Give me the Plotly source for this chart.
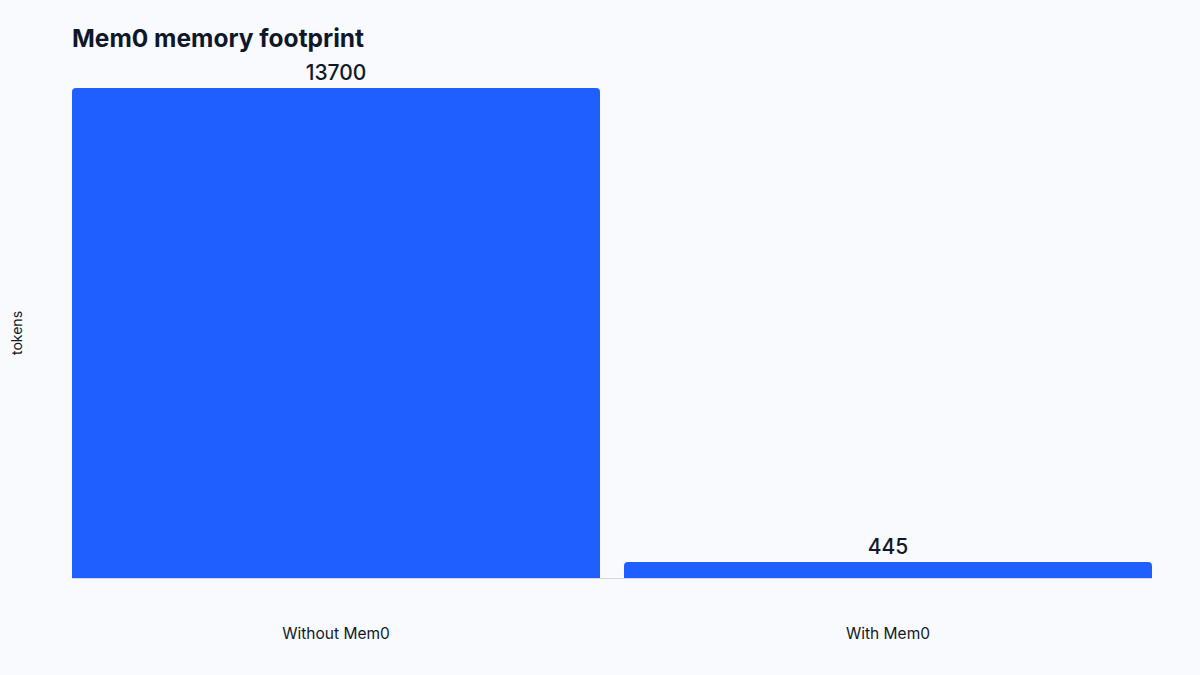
import plotly.graph_objects as go

categories = ["Without Mem0", "With Mem0"]
tokens = [13700, 445]
labels = ["13700", "445"]

fig = go.Figure(
    go.Bar(
        x=categories,
        y=tokens,
        text=labels,
        textposition="outside",
        textfont=dict(size=21, color="#111827", family="Inter", weight=500),
        marker=dict(color="#1f5eff", cornerradius=4, line=dict(width=0)),
        cliponaxis=False,
        hoverinfo="skip",
    )
)

gap = 0.0435
fig.update_layout(
    width=1200,
    height=675,
    paper_bgcolor="#f8fafd",
    plot_bgcolor="#f8fafd",
    font=dict(family="Inter", color="#111827"),
    margin=dict(l=72, r=48, t=88, b=97),
    bargap=gap,
    showlegend=False,
    title=dict(
        text="<b>Mem0 memory footprint</b>",
        x=72 / 1200,
        xanchor="left",
        y=1 - 38 / 675,
        yanchor="middle",
        font=dict(size=24.5, color="#0f172a", family="Inter"),
    ),
    xaxis=dict(
        range=[-(1 - gap) / 2, 1 + (1 - gap) / 2],
        showgrid=False,
        showline=True,
        linecolor="#d4d9e2",
        linewidth=1,
        ticks="",
        ticklabelstandoff=41,
        tickfont=dict(size=15.5, color="#111827"),
    ),
    yaxis=dict(
        range=[0, 13700],
        showgrid=False,
        showticklabels=False,
        zeroline=False,
        title=dict(text="tokens", font=dict(size=14, color="#111827"), standoff=45),
    ),
)

fig.write_html(
    "out.html",
    config={"displayModeBar": False},
    post_script="document.body.style.margin='0';",
)
